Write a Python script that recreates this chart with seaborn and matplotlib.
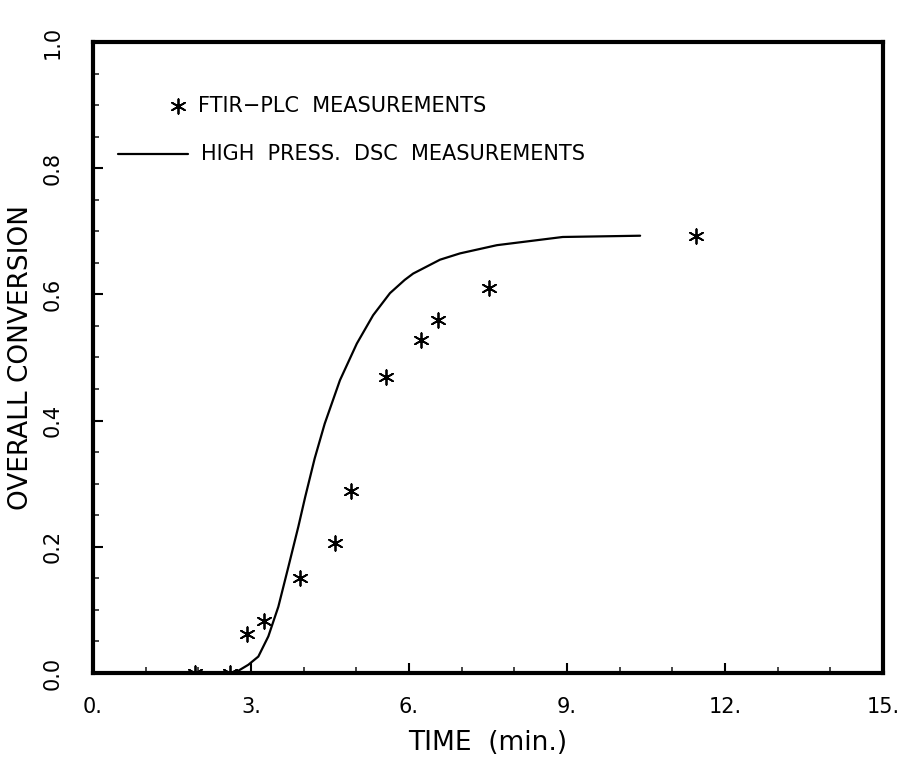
import numpy as np
import pandas as pd
import matplotlib
matplotlib.use("Agg")
import matplotlib.pyplot as plt
import seaborn as sns

# FTIR-PLC measurements
ftir_time = [1.94, 2.6, 2.92, 3.25, 3.93, 4.59, 4.9, 5.56, 6.23, 6.55, 7.52, 11.45]
ftir_conv = [0.0, 0.0, 0.062, 0.082, 0.15, 0.206, 0.288, 0.469, 0.528, 0.559, 0.61, 0.693]

dsc_time = [2.6, 2.70, 2.95, 3.14, 3.33, 3.52, 3.71, 3.90, 4.03, 4.21, 4.40, 4.69,
            5.01, 5.32, 5.64, 5.92, 6.08, 6.59, 6.97, 7.67, 8.92, 10.39]
dsc_conv = [0.0, 0.0005, 0.013, 0.026, 0.058, 0.105, 0.168, 0.232, 0.279, 0.340, 0.395, 0.464,
            0.522, 0.567, 0.602, 0.623, 0.633, 0.655, 0.665, 0.678, 0.691, 0.693]

x_ticks = [0, 3, 6, 9, 12, 15]
x_ticklabels = ["0.", "3.", "6.", "9.", "12.", "15."]
y_ticks = [0.0, 0.2, 0.4, 0.6, 0.8, 1.0]
y_ticklabels = ["0.0", "0.2", "0.4", "0.6", "0.8", "1.0"]

sns.set_theme(style="ticks")
plt.rcParams['font.family'] = ['DejaVu Sans']
plt.rcParams['text.color'] = 'black'
plt.rcParams['axes.labelcolor'] = 'black'
plt.rcParams['lines.solid_joinstyle'] = 'round'

fig = plt.figure(figsize=(9, 7.57), dpi=100)
ax = fig.add_axes([0.1033, 0.111, 0.8777, 0.8335])

df_dsc = pd.DataFrame({"t": dsc_time, "c": dsc_conv})
df_ftir = pd.DataFrame({"t": ftir_time, "c": ftir_conv})

sns.lineplot(data=df_dsc, x="t", y="c", ax=ax, color="black", linewidth=1.6,
             estimator=None, sort=False)
sns.scatterplot(data=df_ftir, x="t", y="c", ax=ax, marker=(6, 2, 0), s=110,
                color="black", linewidth=1.3, edgecolor="black")

ax.set_xlim(0, 15)
ax.set_ylim(0, 1.0)
ax.set_xticks(x_ticks)
ax.set_xticklabels(x_ticklabels)
ax.set_yticks(y_ticks)
ax.set_yticklabels(y_ticklabels, rotation=90, va="center")
ax.set_xticks(np.arange(0, 15.01, 1), minor=True)
ax.set_yticks(np.arange(0, 1.001, 0.05), minor=True)
ax.tick_params(axis="x", which="major", direction="in", length=7, width=1.5,
               labelsize=15, pad=17, colors="black")
ax.tick_params(axis="y", which="major", direction="in", length=7, width=1.5,
               labelsize=15, pad=22, colors="black")
ax.tick_params(axis="both", which="minor", direction="in", length=4, width=1.2)
for s in ax.spines.values():
    s.set_linewidth(3)
    s.set_color("black")

ax.set_xlabel("TIME  (min.)", fontsize=19, labelpad=10)
ax.set_ylabel("OVERALL CONVERSION", fontsize=19, labelpad=6)

# Legend drawn in axes data coordinates
ax.scatter([1.62], [0.898], marker=(6, 2, 0), s=110, color="black", linewidth=1.3)
ax.text(2.0, 0.898, "FTIR\u2212PLC  MEASUREMENTS", fontsize=15, va="center", ha="left")
ax.plot([0.47, 1.8], [0.822, 0.822], color="black", linewidth=1.6)
ax.text(2.05, 0.822, "HIGH  PRESS.  DSC  MEASUREMENTS", fontsize=15, va="center", ha="left")

fig.savefig("out.png", dpi=100)
